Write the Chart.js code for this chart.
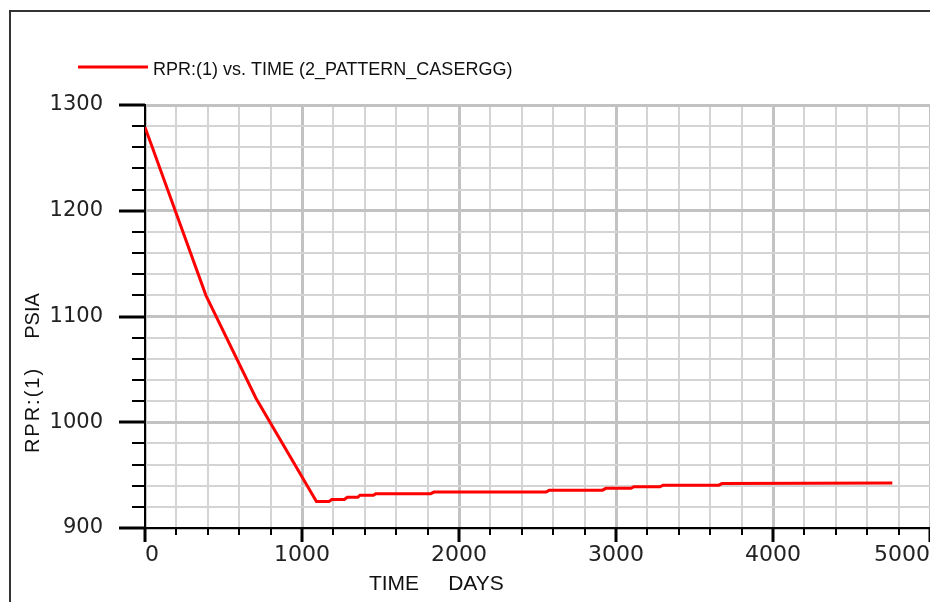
<!DOCTYPE html>
<html lang="en">
<head>
<meta charset="UTF-8">
<title>RPR:(1) vs. TIME</title>
<script src="https://cdn.jsdelivr.net/npm/chart.js"></script>
<style>
  html, body { margin: 0; padding: 0; background: #fff; overflow: hidden; }
  canvas { display: block; }
</style>
</head>
<body>
<canvas id="rprChart" width="930" height="602"></canvas>
<script>
// data (time in days, pressure in psia)
const seriesLabel = 'RPR:(1) vs. TIME (2_PATTERN_CASERGG)';
const timeDays = [0, 388, 706, 1092, 1172, 1190, 1270, 1288, 1355, 1370, 1455, 1470, 1820, 1840,
                  2555, 2575, 2915, 2935, 3095, 3115, 3280, 3300, 3655, 3675, 4760];
const rprPsia = [1279, 1120, 1023, 925, 925, 927, 927, 929, 929, 931, 931, 932.5, 932.5, 934,
                 934, 935.8, 935.8, 937.5, 937.5, 939, 939, 940.5, 940.5, 942, 942.5];

const xRange = [0, 5000];
const yRange = [900, 1300];
const xTickStep = 200, xLabelEvery = 1000;
const yTickStep = 20, yLabelEvery = 100;
const xTitle = ['TIME', 'DAYS'];
const yTitle = ['RPR:(1)', 'PSIA'];

const lineRed = '#ff0000';
const gridMinor = '#d4d4d4';
const gridMajor = '#c2c2c2';

function isMajor(v, every) {
    return Math.abs(v % every) < 1e-6;
}

// frame, legend, axis titles and tick marks
const decorations = {
    id: 'decorations',
    beforeDraw(chart) {
        const ctx = chart.ctx;
        ctx.save();
        ctx.fillStyle = '#fff';
        ctx.fillRect(0, 0, chart.width, chart.height);
        ctx.strokeStyle = '#333';
        ctx.lineWidth = 2;
        ctx.beginPath();
        ctx.moveTo(10, chart.height);
        ctx.lineTo(10, 11);
        ctx.lineTo(chart.width, 11);
        ctx.stroke();
        ctx.restore();
    },
    afterDraw(chart) {
        const { ctx, chartArea: a, scales: { x, y } } = chart;
        const ds = chart.data.datasets[0];
        ctx.save();

        // legend
        ctx.strokeStyle = ds.borderColor;
        ctx.lineWidth = 3;
        ctx.beginPath();
        ctx.moveTo(78, 67);
        ctx.lineTo(148, 67);
        ctx.stroke();
        ctx.fillStyle = '#111';
        ctx.font = '18px "Liberation Sans", Arial, sans-serif';
        ctx.textBaseline = 'alphabetic';
        ctx.textAlign = 'left';
        ctx.fillText(ds.label, 153, 75);

        // tick marks
        ctx.strokeStyle = '#000';
        x.ticks.forEach(t => {
            const px = Math.round(x.getPixelForValue(t.value));
            const major = isMajor(t.value, xLabelEvery);
            ctx.lineWidth = major ? 3 : 2;
            ctx.beginPath();
            ctx.moveTo(px, a.bottom);
            ctx.lineTo(px, a.bottom + (major ? 14 : 7));
            ctx.stroke();
        });
        y.ticks.forEach(t => {
            const py = Math.round(y.getPixelForValue(t.value));
            const major = isMajor(t.value, yLabelEvery);
            ctx.lineWidth = major ? 3 : 2;
            ctx.beginPath();
            ctx.moveTo(a.left - (major ? 26 : 13), py);
            ctx.lineTo(a.left, py);
            ctx.stroke();
        });

        // axis titles
        ctx.fillStyle = '#111';
        ctx.font = '21px "Liberation Sans", Arial, sans-serif';
        ctx.textAlign = 'center';
        ctx.fillText(xTitle[0], 394, 590);
        ctx.fillText(xTitle[1], 476, 590);

        ctx.font = '20px "Liberation Sans", Arial, sans-serif';
        ctx.translate(39, 0);
        ctx.rotate(-Math.PI / 2);
        ctx.fillText(yTitle[1], -316, 0);
        ctx.letterSpacing = '2px';
        ctx.fillText(yTitle[0], -410, 0);
        ctx.restore();
    }
};

const ctxRpr = document.getElementById('rprChart').getContext('2d');
const rprChart = new Chart(ctxRpr, {
    type: 'line',
    data: {
        datasets: [{
            label: seriesLabel,
            data: timeDays.map((t, i) => ({ x: t, y: rprPsia[i] })),
            borderColor: lineRed,
            backgroundColor: lineRed,
            borderWidth: 3,
            pointRadius: 0,
            tension: 0,
            fill: false
        }]
    },
    options: {
        responsive: false,
        animation: false,
        layout: { padding: { top: 105, right: 0, bottom: 0, left: 0 } },
        plugins: {
            legend: { display: false },
            tooltip: { enabled: false }
        },
        scales: {
            x: {
                type: 'linear',
                min: xRange[0],
                max: xRange[1],
                afterFit(s) {
                    s.height = 74;
                    s.paddingLeft = 0;
                    s.paddingRight = 0;
                },
                ticks: {
                    stepSize: xTickStep,
                    autoSkip: false,
                    maxRotation: 0,
                    align: 'inner',
                    padding: 14,
                    color: '#222',
                    font: { family: '"DejaVu Sans", sans-serif', size: 22 },
                    callback: v => isMajor(v, xLabelEvery) ? String(v) : ''
                },
                grid: {
                    drawTicks: false,
                    color: c => isMajor(c.tick.value, xLabelEvery) ? gridMajor : gridMinor,
                    lineWidth: c => isMajor(c.tick.value, xLabelEvery) ? 3 : 2
                },
                border: { color: '#000', width: 2 }
            },
            y: {
                min: yRange[0],
                max: yRange[1],
                afterFit(s) {
                    s.width = 145;
                    s.paddingTop = 0;
                    s.paddingBottom = 0;
                },
                ticks: {
                    stepSize: yTickStep,
                    autoSkip: false,
                    padding: 42,
                    color: '#222',
                    font: { family: '"DejaVu Sans", sans-serif', size: 21 },
                    callback: v => isMajor(v, yLabelEvery) ? String(v) : ''
                },
                grid: {
                    drawTicks: false,
                    color: c => isMajor(c.tick.value, yLabelEvery) ? gridMajor : gridMinor,
                    lineWidth: c => isMajor(c.tick.value, yLabelEvery) ? 3 : 2
                },
                border: { color: '#000', width: 2 }
            }
        }
    },
    plugins: [decorations]
});
</script>
</body>
</html>
